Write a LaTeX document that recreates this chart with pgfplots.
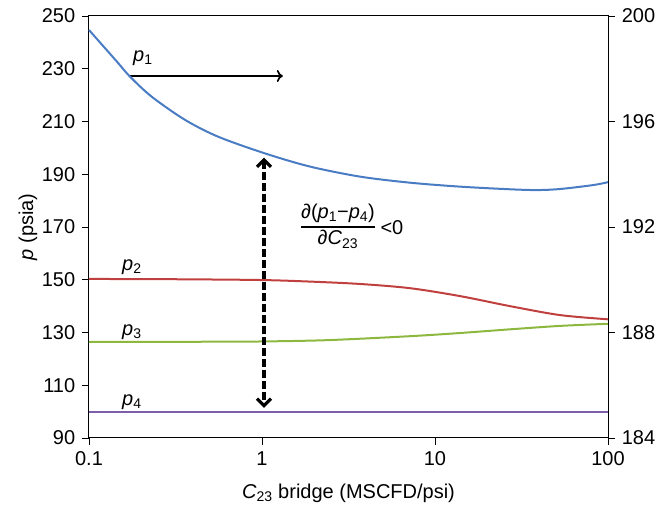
\documentclass[border=0pt]{standalone}
\usepackage{fontspec}
\setmainfont{Liberation Sans}
\usepackage{pgfplots}
\pgfplotsset{compat=1.18}
\usetikzlibrary{arrows.meta}

\definecolor{pone}{HTML}{4A7CC4}
\definecolor{ptwo}{HTML}{C0403F}
\definecolor{pthree}{HTML}{8DB840}
\definecolor{pfour}{HTML}{7D5EA8}

\begin{document}
\fontsize{20}{24}\selectfont
\begin{tikzpicture}
\path[use as bounding box] (-89pt,-72pt) rectangle (580pt,438pt);

% left scale: p2, p3, p4
\begin{axis}[
  scale only axis, width=519pt, height=422pt,
  xmode=log, xmin=0.1, xmax=100,
  xminorticks=false,
  tick align=outside, major tick length=7pt,
  tick style={black, line width=0.9pt},
  axis line style={line width=1pt},
  ticklabel style={font=\fontsize{20}{24}\selectfont},
  /pgf/number format/assume math mode=true,
  clip=false,
  ymin=90, ymax=250,
  xtick={0.1,1,10,100}, xticklabels={0.1,1,10,100},
  ytick={90,110,...,250},
  xtick pos=left, ytick pos=left,
  xlabel={\textit{C}\textsubscript{23} bridge (MSCFD/psi)},
  ylabel={\textit{p} (psia)},
  label style={font=\fontsize{20}{24}\selectfont},
  xlabel style={at={(axis description cs:0.5,-0.130)}, anchor=center},
  ylabel style={at={(axis description cs:-0.1175,0.5)}, anchor=center},
]
\addplot[ptwo, line width=2pt, smooth] coordinates {
  (0.1,150.3) (0.3,150.2) (0.974,149.9) (1.895,149.3) (3.685,148.4)
  (7.17,146.8) (13.95,143.8) (27.1,140.0) (52.8,136.6) (100,135.0)};
\addplot[pthree, line width=2pt, smooth] coordinates {
  (0.1,126.4) (0.5,126.5) (1,126.6) (2.4,127.1) (7.17,128.6)
  (13.95,129.8) (27.1,131.2) (52.8,132.5) (100,133.3)};
\addplot[pfour, line width=2pt] coordinates {(0.1,100) (100,100)};

\node at (axis cs:0.205,234.1) {\textit{p}\textsubscript{1}};
\node at (axis cs:0.177,154.8) {\textit{p}\textsubscript{2}};
\node at (axis cs:0.177,130.2) {\textit{p}\textsubscript{3}};
\node at (axis cs:0.177,103.6) {\textit{p}\textsubscript{4}};

\draw[line width=1.7pt, -{To[length=6pt,width=12pt]}]
  (axis cs:0.1726,227.25) -- (axis cs:1.32,227.25);
\draw[line width=3.2pt, dash pattern=on 7.5pt off 3.5pt,
  {Straight Barb[length=7pt,width=14pt]}-{Straight Barb[length=7pt,width=14pt]}]
  (axis cs:1.027,196.3) -- (axis cs:1.027,101.4);

\node at (axis cs:2.75,170.0) {\arrayrulewidth=2.4pt\begin{tabular}{@{}c@{}}
  ∂(\textit{p}\textsubscript{1}−\textit{p}\textsubscript{4})\\\hline
  ∂\textit{C}\textsubscript{23}\end{tabular}};
\node at (axis cs:5.64,169.6) {<0};
\end{axis}

% right scale: p1
\begin{axis}[
  scale only axis, width=519pt, height=422pt,
  xmode=log, xmin=0.1, xmax=100,
  xminorticks=false,
  tick align=outside, major tick length=7pt,
  tick style={black, line width=0.9pt},
  ticklabel style={font=\fontsize{20}{24}\selectfont},
  /pgf/number format/assume math mode=true,
  clip=false,
  ymin=184, ymax=200,
  ytick={184,188,...,200},
  axis x line=none, axis y line*=right,
  y axis line style={-, line width=1pt},
]
\addplot[pone, line width=2pt, smooth] coordinates {
  (0.1,199.47) (0.1238,198.78) (0.1477,198.21) (0.1726,197.70)
  (0.2304,196.94) (0.3593,196.06) (0.5594,195.42) (1.041,194.79)
  (1.895,194.29) (3.685,193.91) (7.17,193.68) (13.95,193.53)
  (27.1,193.43) (38.7,193.40) (52.8,193.44) (82.2,193.59) (100,193.70)};
\end{axis}
\end{tikzpicture}
\end{document}
